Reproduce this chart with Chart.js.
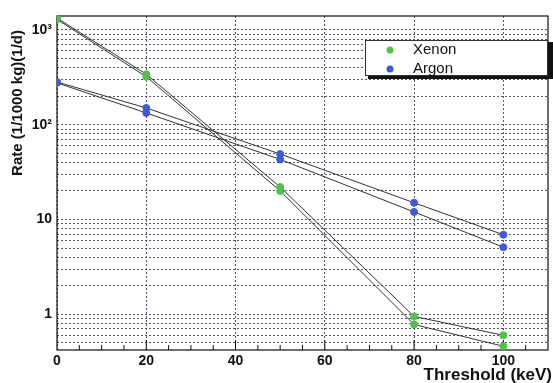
<!DOCTYPE html>
<html><head><meta charset="utf-8">
<script src="https://cdn.jsdelivr.net/npm/chart.js@4/dist/chart.umd.min.js"></script>
<style>body{margin:0;background:#fff}</style></head>
<body><canvas id="c" width="553" height="383"></canvas>
<script>
// values
const thresholds = [0, 20, 50, 80, 100];
const xenonHigh = [1330, 340, 22, 0.95, 0.6];
const xenonLow = [1290, 320, 20, 0.78, 0.46];
const argonHigh = [282, 150, 49, 15, 6.9];
const argonLow = [276, 133, 43, 12, 5.1];
const seriesNames = ['Xenon', 'Argon'];
const seriesColors = ['#4fc24a', '#3d5bd6'];
const xTicks = [0, 20, 40, 60, 80, 100];
const yTickValues = [1, 10, 100, 1000];
const yTickLabels = ['1', '10', '10²', '10³'];
const xTitle = 'Threshold (keV)';
const yTitle = 'Rate (1/1000 kg)(1/d)';

const pts = arr => thresholds.map((x, i) => ({x: x, y: arr[i]}));
const ds = (arr, c) => ({
    data: pts(arr), showLine: true, borderColor: '#333', borderWidth: 1,
    pointBackgroundColor: c, pointBorderColor: c, pointRadius: 3.5
});

const frame = {
    id: 'frame',
    beforeDatasetsDraw(chart) {
        const {ctx, chartArea: a, scales} = chart;
        ctx.save();
        ctx.strokeStyle = '#111';
        ctx.lineWidth = 1.2;
        ctx.strokeRect(a.left, a.top, a.right - a.left, a.bottom - a.top);
        // minor ticks on x axis
        ctx.lineWidth = 1;
        for (let v = 5; v < 110; v += 5) {
            const px = scales.x.getPixelForValue(v);
            const len = v % 20 === 0 ? 10 : 5;
            ctx.beginPath(); ctx.moveTo(px, a.bottom); ctx.lineTo(px, a.bottom - len); ctx.stroke();
        }
        ctx.restore();
    },
    afterDraw(chart) {
        const ctx = chart.ctx;
        ctx.save();
        // axis titles
        ctx.fillStyle = '#111';
        ctx.font = 'bold 17px "Liberation Sans", Arial, sans-serif';
        ctx.textAlign = 'right';
        ctx.textBaseline = 'middle';
        ctx.fillText(xTitle, 552, 375);
        ctx.save();
        ctx.translate(18, 30);
        ctx.rotate(-Math.PI / 2);
        ctx.font = 'bold 15px "Liberation Sans", Arial, sans-serif';
        ctx.fillText(yTitle, 0, 0);
        ctx.restore();
        // legend
        ctx.textAlign = 'left';
        ctx.fillStyle = '#111';
        ctx.fillRect(368, 42, 185, 37);
        ctx.fillStyle = '#fff';
        ctx.fillRect(365, 40, 183, 36);
        ctx.strokeStyle = '#333';
        ctx.lineWidth = 1;
        ctx.strokeRect(365.5, 40.5, 182, 35);
        ctx.font = '15px "Liberation Sans", Arial, sans-serif';
        seriesNames.forEach((n, i) => {
            const y = 50 + i * 19;
            ctx.fillStyle = seriesColors[i];
            ctx.beginPath(); ctx.arc(390, y, 3.5, 0, Math.PI * 2); ctx.fill();
            ctx.fillStyle = '#111';
            ctx.fillText(n, 413, y);
        });
        ctx.restore();
    }
};

new Chart(document.getElementById('c').getContext('2d'), {
    type: 'scatter',
    data: {
        datasets: [
            ds(xenonHigh, seriesColors[0]), ds(xenonLow, seriesColors[0]),
            ds(argonHigh, seriesColors[1]), ds(argonLow, seriesColors[1])
        ]
    },
    options: {
        responsive: false,
        animation: false,
        layout: {padding: {left: 0, right: 3, top: 16, bottom: 0}},
        plugins: {legend: {display: false}, tooltip: {enabled: false}},
        scales: {
            x: {
                type: 'linear', min: 0, max: 110,
                afterBuildTicks: s => { s.ticks = xTicks.map(v => ({value: v})); },
                afterFit: s => { s.height = 33; },
                grid: {color: '#556', lineWidth: 1, tickLength: 0},
                border: {display: false, dash: [2, 2]},
                ticks: {color: '#111', padding: 3, font: {family: 'Liberation Sans', size: 14, weight: 'bold'}}
            },
            y: {
                type: 'logarithmic', min: 0.42, max: 1400,
                afterBuildTicks: s => {
                    const t = [];
                    [0.1, 1, 10, 100, 1000].forEach(d => {
                        for (let m = 1; m < 10; m++) {
                            const v = Number((m * d).toPrecision(3));
                            if (v >= 0.42 && v <= 1400) t.push({value: v});
                        }
                    });
                    s.ticks = t;
                },
                afterFit: s => { s.width = 57; },
                grid: {color: '#556', lineWidth: 1, tickLength: 0},
                border: {display: false, dash: [2, 2]},
                ticks: {
                    color: '#111', padding: 5, autoSkip: false,
                    font: {family: 'Liberation Sans', size: 14, weight: 'bold'},
                    callback: v => {
                        const i = yTickValues.findIndex(t => Math.abs(t - v) < t * 1e-6);
                        return i >= 0 ? yTickLabels[i] : '';
                    }
                }
            }
        }
    },
    plugins: [frame]
});
</script>
</body></html>
